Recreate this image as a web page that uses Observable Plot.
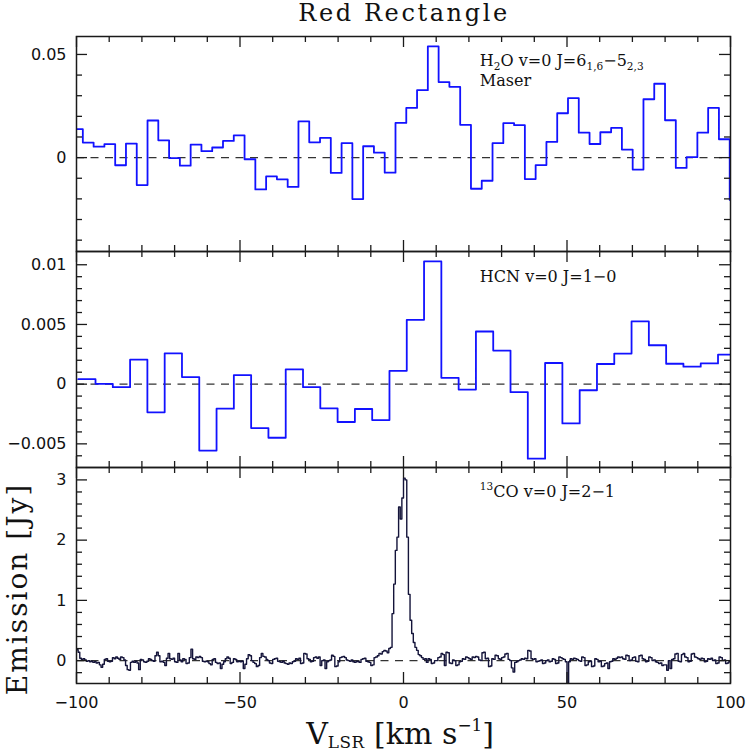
<!DOCTYPE html>
<html>
<head>
<meta charset="utf-8">
<script src="https://cdn.jsdelivr.net/npm/d3@7"></script>
<script src="https://cdn.jsdelivr.net/npm/@observablehq/plot@0.6"></script>
<style>
  body { margin: 0; background: #fff; }
  #wrap { position: relative; width: 747px; height: 753px; overflow: hidden; background: #fff; }
  #wrap > svg { position: absolute; left: 0; }
</style>
</head>
<body>
<div id="wrap"></div>
<script>
// ---------- shared axis data ----------
const xDomain = [-100, 100];
const xMajorTicks = [-100, -50, 0, 50, 100];
const xMinorTicks = [-90, -80, -70, -60, -40, -30, -20, -10, 10, 20, 30, 40, 60, 70, 80, 90];

// ---------- H2O maser (km/s channel centres start + width) ----------
const h2oFirstVelocity = -99.71;
const h2oChannelWidth = 3.297;
const h2oFlux = [
  0.0138, 0.0073, 0.0053, 0.0065, -0.0037, 0.0068, -0.0133, 0.0180, 0.0084, -0.0002,
  -0.0039, 0.0063, 0.0031, 0.0049, 0.0081, 0.0108, -0.0008, -0.0154, -0.0091, -0.0105,
  -0.0142, 0.0176, 0.0074, 0.0096, -0.0074, 0.0070, -0.0201, 0.0055, 0.0024, -0.0073,
  0.0168, 0.0241, 0.0327, 0.0539, 0.0366, 0.0343, 0.0159, -0.0151, -0.0112, 0.0070,
  0.0167, 0.0157, -0.0104, -0.0036, 0.0076, 0.0215, 0.0288, 0.0121, 0.0066, 0.0123,
  0.0144, 0.0039, -0.0058, 0.0283, 0.0358, 0.0181, -0.0050, 0.0002, 0.0121, 0.0241,
  0.0089, -0.0205
];
const h2oYDomain = [-0.0455, 0.0587];
const h2oYMajor = [0, 0.05];
const h2oYMinor = [-0.04, -0.03, -0.02, -0.01, 0.01, 0.02, 0.03, 0.04];

// ---------- HCN ----------
const hcnFirstVelocity = -96.83;
const hcnChannelWidth = 5.288;
const hcnFlux = [
  0.00042, 0.00003, -0.00025, 0.00205, -0.00236, 0.00258, 0.00059, -0.00556, -0.00205, 0.00076,
  -0.00368, -0.00449, 0.00124, -0.00025, -0.00202, -0.00317, -0.00208, -0.00301, 0.00112, 0.00539,
  0.01028, 0.00053, -0.00045, 0.00441, 0.00281, -0.00067, -0.00624, 0.00177, -0.00329, -0.00051,
  0.00169, 0.00256, 0.00525, 0.00326, 0.00171, 0.00146, 0.00174, 0.00247
];
const hcnYDomain = [-0.00698, 0.01111];
const hcnYMajor = [-0.005, 0, 0.005, 0.01];
const hcnYMinor = [-0.006, -0.004, -0.003, -0.002, -0.001, 0.001, 0.002, 0.003, 0.004, 0.006, 0.007, 0.008, 0.009];

// ---------- 13CO ----------
const coFirstVelocity = -99.75;
const coChannelWidth = 0.5;
const coFlux = [
  0.18, 0.14, 0.04, 0.02, 0.03, 0.01, -0.01, 0.00, -0.02, -0.01, -0.03, -0.02, -0.04, -0.03, -0.07, -0.11, -0.06, 0.02, 0.03, -0.01,
  -0.02, -0.01, 0.05, 0.03, 0.06, 0.04, 0.02, 0.06, 0.05, 0.01, -0.08, -0.15, -0.16, -0.03, -0.01, -0.03, -0.01, -0.04, -0.15, 0.02,
  0.01, -0.02, -0.03, -0.01, 0.03, 0.02, 0.00, -0.01, 0.08, 0.14, 0.08, -0.02, -0.01, -0.03, -0.08, 0.04, 0.12, 0.03, 0.02, 0.04,
  -0.02, -0.03, 0.12, 0.01, -0.02, 0.03, 0.02, -0.05, -0.04, 0.05, 0.19, 0.03, 0.02, 0.06, 0.05, 0.07, 0.05, -0.01, -0.02, -0.01,
  -0.02, -0.05, -0.07, 0.02, 0.03, -0.03, -0.05, -0.04, -0.13, -0.06, -0.02, 0.03, 0.06, 0.04, -0.05, -0.03, 0.03, 0.02, -0.02, -0.01,
  -0.02, -0.01, -0.13, -0.06, 0.03, 0.10, 0.08, 0.00, -0.03, -0.05, -0.10, -0.08, 0.05, 0.12, 0.07, 0.06, 0.02, 0.00, -0.04, -0.05,
  0.02, 0.03, 0.04, -0.01, -0.02, -0.03, -0.01, -0.04, -0.05, -0.06, -0.04, -0.05, -0.02, -0.01, 0.03, 0.02, 0.04, -0.05, -0.04, 0.12,
  0.11, 0.03, 0.02, -0.02, -0.01, 0.05, 0.06, 0.04, 0.06, -0.08, 0.00, 0.01, -0.13, -0.02, 0.00, 0.01, 0.09, 0.07, -0.10, -0.09,
  -0.02, 0.05, 0.06, 0.07, 0.05, 0.01, 0.00, -0.01, 0.01, -0.02, -0.03, -0.01, -0.02, -0.03, 0.02, 0.03, 0.04, -0.01, -0.02, -0.03,
  -0.08, -0.07, 0.05, 0.06, 0.08, 0.12, 0.11, 0.15, 0.17, 0.16, 0.13, 0.20, 0.22, 0.78, 1.27, 1.83, 2.05, 2.55, 2.35, 2.70,
  3.03, 3.00, 2.05, 1.10, 0.67, 0.45, 0.30, 0.22, 0.17, 0.10, 0.08, 0.05, 0.02, 0.03, -0.03, 0.03, 0.02, -0.05, -0.04, 0.00,
  0.00, 0.05, 0.06, 0.12, 0.10, -0.08, 0.14, 0.13, -0.04, -0.05, 0.01, 0.00, -0.08, -0.07, -0.02, -0.01, 0.03, 0.02, 0.06, 0.05,
  0.03, 0.02, 0.06, 0.05, 0.07, 0.06, 0.01, 0.00, 0.13, 0.14, 0.03, 0.04, -0.10, -0.09, 0.03, 0.02, 0.09, 0.08, 0.03, 0.02,
  0.05, 0.06, 0.11, 0.12, 0.02, 0.00, -0.12, -0.19, -0.03, -0.02, 0.00, 0.01, 0.03, 0.02, 0.04, 0.03, 0.17, 0.16, 0.03, 0.02,
  0.03, -0.02, -0.01, 0.00, 0.01, -0.05, -0.04, 0.00, 0.01, -0.02, -0.01, 0.03, 0.02, -0.05, -0.04, 0.06, 0.05, 0.03, 0.02, -0.02,
  -0.45, -0.02, 0.03, 0.02, 0.04, 0.03, 0.02, 0.00, -0.01, 0.06, 0.05, -0.08, -0.07, -0.02, -0.01, -0.10, -0.09, 0.03, 0.02, -0.02,
  -0.01, -0.10, -0.09, -0.05, -0.04, -0.13, -0.02, -0.01, 0.03, 0.02, 0.04, 0.06, 0.05, 0.06, 0.03, 0.02, 0.09, 0.08, 0.00, 0.01,
  0.05, 0.06, -0.01, -0.02, 0.08, 0.09, 0.03, 0.02, -0.02, -0.01, 0.06, 0.05, 0.00, 0.01, -0.02, -0.03, -0.05, -0.04, -0.08, -0.07,
  -0.07, -0.16, 0.00, -0.13, 0.02, 0.03, 0.11, 0.12, -0.01, -0.02, 0.10, 0.12, 0.06, 0.05, -0.02, -0.01, 0.11, 0.12, 0.06, 0.05,
  0.03, 0.02, 0.04, 0.03, -0.02, -0.01, 0.03, 0.02, 0.04, 0.00, 0.01, -0.05, -0.04, 0.06, 0.05, 0.00, 0.01, -0.05, -0.04, -0.02
];
const coYDomain = [-0.38, 3.206];
const coYMajor = [0, 1, 2, 3];
const coYMinor = [-0.2, 0.2, 0.4, 0.6, 0.8, 1.2, 1.4, 1.6, 1.8, 2.2, 2.4, 2.6, 2.8];

// ---------- helpers ----------
const W = 747, ML = 76, MR = 17;
const INK = "#1a1a1a";
const fmt = d => d === 0 ? "0" : (d < 0 ? "\u2212" : "") + String(Math.abs(d));

// channel edges -> step points (left edge of each channel, plus the final right edge)
function stepPoints(first, width, flux) {
  const pts = flux.map((f, i) => ({v: first + (i - 0.5) * width, f}));
  pts.push({v: first + (flux.length - 0.5) * width, f: flux[flux.length - 1]});
  return pts;
}

function panel(cfg) {
  const innerW = W - ML - MR;
  const innerH = cfg.height - cfg.marginTop - cfg.marginBottom;
  const major = 11, minor = 6;
  const tk = {stroke: INK, strokeWidth: 1.3};
  const marks = [
    Plot.ruleY([0], {stroke: "#333", strokeWidth: 1.3, strokeDasharray: "8,6.5"}),
    Plot.line(stepPoints(cfg.first, cfg.width, cfg.flux),
      {x: "v", y: "f", curve: "step-after", stroke: cfg.color, strokeWidth: cfg.sw, clip: true}),
    Plot.tickX(xMajorTicks, {x: d => d, insetTop: innerH - major, ...tk}),
    Plot.tickX(xMajorTicks, {x: d => d, insetBottom: innerH - major, ...tk}),
    Plot.tickX(xMinorTicks, {x: d => d, insetTop: innerH - minor, ...tk}),
    Plot.tickX(xMinorTicks, {x: d => d, insetBottom: innerH - minor, ...tk}),
    Plot.tickY(cfg.yMajor, {y: d => d, insetRight: innerW - major, ...tk}),
    Plot.tickY(cfg.yMajor, {y: d => d, insetLeft: innerW - major, ...tk}),
    Plot.tickY(cfg.yMinor, {y: d => d, insetRight: innerW - minor, ...tk}),
    Plot.tickY(cfg.yMinor, {y: d => d, insetLeft: innerW - minor, ...tk}),
    Plot.frame({stroke: INK, strokeWidth: 1.5}),
    Plot.axisY(cfg.yMajor, {tickSize: 0, tickPadding: 10, tickFormat: fmt, fontSize: 16, fill: "#111"})
  ];
  if (cfg.xLabels) {
    marks.push(Plot.axisX(xMajorTicks, {tickSize: 0, tickPadding: 13, tickFormat: fmt, fontSize: 16, fill: "#111"}));
  }
  const xOpts = {domain: xDomain, label: null};
  if (!cfg.xLabels) xOpts.axis = null;
  const p = Plot.plot({
    width: W, height: cfg.height,
    marginLeft: ML, marginRight: MR, marginTop: cfg.marginTop, marginBottom: cfg.marginBottom,
    x: xOpts,
    y: {domain: cfg.yDomain, label: null},
    style: {background: "transparent", overflow: "visible", fontFamily: "DejaVu Sans", color: "#111"},
    marks
  });
  p.style.top = cfg.top + "px";
  return p;
}

// label with sub/superscripts, placed through the panel's scales
function richText(parent, x, y, parts, size, anchor, opt = {}) {
  const subShift = opt.subShift ?? size * 0.28;
  const supShift = opt.supShift ?? size * 0.42;
  const scriptScale = opt.scriptScale ?? 0.66;
  const t = d3.select(parent).append("text")
    .attr("x", x).attr("y", y)
    .attr("font-family", "DejaVu Serif").attr("font-size", size)
    .attr("fill", "#111").attr("text-anchor", anchor || "start");
  let cur = 0;
  for (const p of parts) {
    const target = p.sub ? subShift : p.sup ? -supShift : 0;
    const s = t.append("tspan").text(p.t).attr("dy", target - cur);
    if (p.sub || p.sup) s.attr("font-size", size * scriptScale);
    if (p.ls) s.attr("letter-spacing", p.ls);
    cur = target;
  }
  return t;
}

const wrap = document.getElementById("wrap");

const p1 = panel({top: 0, height: 251, marginTop: 36, marginBottom: 0,
  first: h2oFirstVelocity, width: h2oChannelWidth, flux: h2oFlux,
  yDomain: h2oYDomain, yMajor: h2oYMajor, yMinor: h2oYMinor, color: "#1212ff", sw: 1.8});
const p2 = panel({top: 251, height: 216, marginTop: 0, marginBottom: 0,
  first: hcnFirstVelocity, width: hcnChannelWidth, flux: hcnFlux,
  yDomain: hcnYDomain, yMajor: hcnYMajor, yMinor: hcnYMinor, color: "#1212ff", sw: 1.8});
const p3 = panel({top: 467, height: 286, marginTop: 0, marginBottom: 70,
  first: coFirstVelocity, width: coChannelWidth, flux: coFlux,
  yDomain: coYDomain, yMajor: coYMajor, yMinor: coYMinor, color: "#14143a", sw: 1.4, xLabels: true});
wrap.append(p1, p2, p3);

// annotations inside panels
const labelV = 23.5;
{
  const sx = p1.scale("x"), sy = p1.scale("y");
  richText(p1, sx.apply(labelV), sy.apply(0.0440), [
    {t: "H"}, {t: "2", sub: true}, {t: "O v=0 J=6"}, {t: "1,6", sub: true}, {t: "\u22125"}, {t: "2,3", sub: true}
  ], 16, "start", {subShift: 3.5});
  richText(p1, sx.apply(labelV), sy.apply(0.0343), [{t: "Maser"}], 16);
}
{
  const sx = p2.scale("x"), sy = p2.scale("y");
  richText(p2, sx.apply(labelV), sy.apply(0.00852), [{t: "HCN v=0 J=1\u22120"}], 16);
}
{
  const sx = p3.scale("x"), sy = p3.scale("y");
  richText(p3, sx.apply(labelV), sy.apply(2.71), [{t: "13", sup: true}, {t: "CO v=0 J=2\u22121"}], 16);
}

// overlay for title and axis titles
const ov = d3.select(wrap).append("svg")
  .attr("width", W).attr("height", 753)
  .style("top", "0px").style("pointer-events", "none");
const ovn = ov.node();
richText(ovn, 404, 21, [{t: "Red Rectangle", ls: 2.6}], 24, "middle");
richText(ovn, 400, 744, [
  {t: "V"}, {t: "LSR", sub: true, ls: 0.5}, {t: " [km s"}, {t: "\u22121", sup: true}, {t: "]"}
], 30, "middle", {subShift: 4, supShift: 13, scriptScale: 0.56});
richText(ovn, 0, 0, [{t: "Emission [Jy]", ls: 2}], 28, "middle")
  .attr("transform", "translate(27,589) rotate(-90)");
</script>
</body>
</html>
